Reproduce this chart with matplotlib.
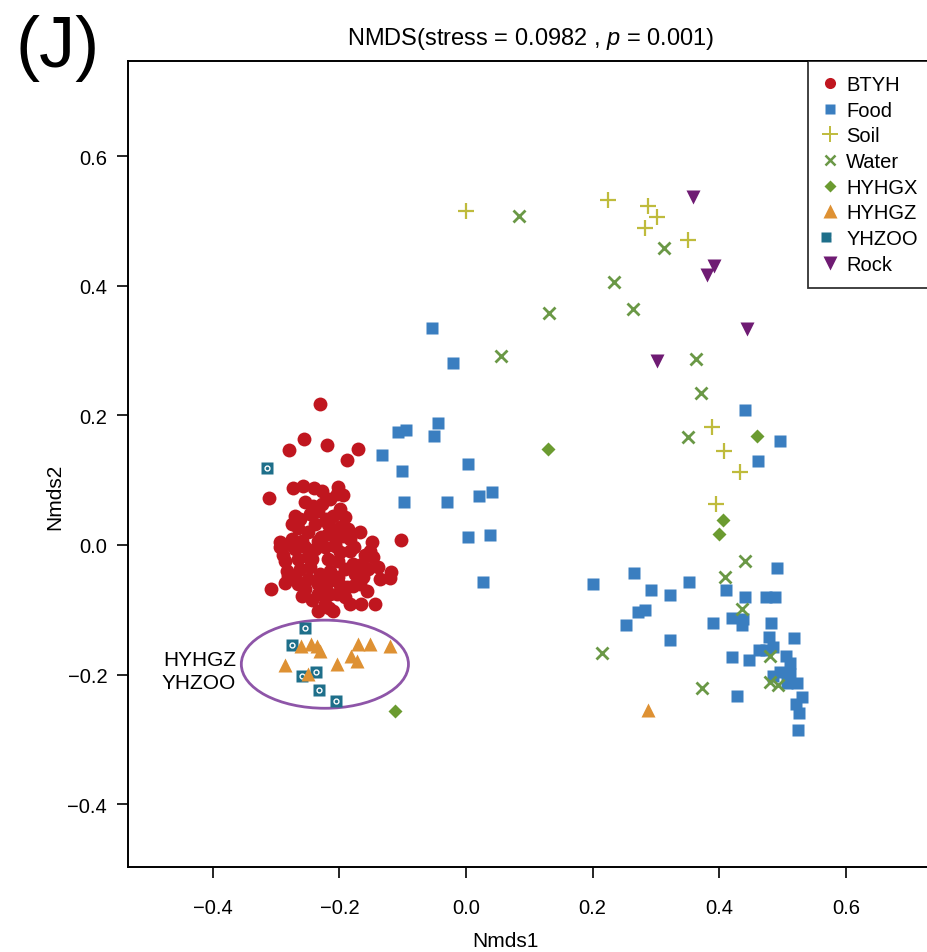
import matplotlib
matplotlib.use('agg')
import matplotlib.pyplot as plt
from matplotlib.lines import Line2D
from matplotlib.patches import Ellipse
from matplotlib.legend_handler import HandlerTuple

plt.rcParams['font.family'] = ['Liberation Sans', 'DejaVu Sans']
plt.rcParams['mathtext.fontset'] = 'custom'
plt.rcParams['mathtext.it'] = 'Liberation Sans:italic'
plt.rcParams['mathtext.rm'] = 'Liberation Sans'

# NMDS site scores per sample group
btyh_x = [-0.231, -0.256, -0.280, -0.220, -0.171, -0.188, -0.311, -0.103, -0.308, -0.166, -0.144, -0.216, -0.118, -0.120,
          -0.273, -0.258, -0.240, -0.227, -0.202, -0.204, -0.194, -0.254, -0.242, -0.234,
          -0.199, -0.210, -0.191, -0.270, -0.262, -0.275, -0.265, -0.239, -0.250, -0.229,
          -0.218, -0.294, -0.275, -0.259, -0.167, -0.210, -0.194, -0.183, -0.149, -0.207,
          -0.294, -0.286, -0.283, -0.281, -0.265, -0.254, -0.234, -0.223, -0.243, -0.152,
          -0.147, -0.179, -0.164, -0.155, -0.139, -0.175, -0.163, -0.188, -0.179, -0.156,
          -0.204, -0.210,
          -0.270, -0.254, -0.239, -0.223, -0.199, -0.183, -0.265, -0.250, -0.218, -0.202,
          -0.191, -0.262, -0.246, -0.231, -0.215, -0.202, -0.270, -0.250, -0.234, -0.218,
          -0.199, -0.215, -0.191, -0.227, -0.243, -0.207, -0.278, -0.234, -0.246, -0.221,
          -0.227, -0.215, -0.177, -0.167, -0.289, -0.183, -0.234, -0.218, -0.199, -0.259,
          -0.286, -0.160, -0.136, -0.186]
btyh_y = [0.218, 0.164, 0.147, 0.154, 0.148, 0.131, 0.073, 0.008, -0.068, -0.091, -0.091, -0.097, -0.042, -0.051,
          0.088, 0.091, 0.088, 0.083, 0.090, 0.079, 0.077, 0.066, 0.060, 0.052,
          0.056, 0.045, 0.043, 0.045, 0.040, 0.032, 0.026, 0.032, 0.020, 0.012,
          0.017, 0.005, 0.009, 0.006, 0.020, 0.017, 0.014, 0.009, 0.005, -0.002,
          -0.003, -0.025, -0.040, -0.048, -0.060, -0.068, -0.076, -0.091, -0.085, -0.009,
          -0.019, -0.029, -0.029, -0.037, -0.034, -0.045, -0.049, -0.065, -0.063, -0.071,
          -0.076, -0.102,
          -0.006, -0.003, -0.006, -0.003, -0.011, -0.009, -0.022, -0.019, -0.022, -0.025,
          -0.037, -0.037, -0.034, -0.045, -0.040, -0.049, -0.048, -0.052, -0.060, -0.057,
          -0.062, -0.076, -0.080, -0.071, -0.022, 0.002, 0.002, 0.006, 0.048, 0.040,
          0.063, 0.071, -0.003, -0.060, -0.015, -0.091, -0.102, 0.032, 0.028, -0.079,
          -0.059, -0.015, -0.052, 0.025]

food_x = [-0.054, -0.021, -0.044, -0.107, -0.095, -0.051, -0.133, -0.101, 0.003, -0.098, -0.030, 0.021, 0.041,
          0.003, 0.038, 0.027,
          0.201, 0.265, 0.292, 0.322, 0.352, 0.411, 0.441, 0.474, 0.488, 0.491, 0.272, 0.283, 0.253, 0.322,
          0.390, 0.420, 0.438, 0.436, 0.482, 0.479, 0.518, 0.420, 0.447, 0.463, 0.474, 0.485, 0.506, 0.512,
          0.496, 0.512, 0.485, 0.507, 0.523, 0.531, 0.521, 0.526, 0.428, 0.524, 0.441, 0.496, 0.461]
food_y = [0.335, 0.281, 0.188, 0.174, 0.177, 0.168, 0.139, 0.114, 0.125, 0.066, 0.066, 0.076, 0.082,
          0.012, 0.015, -0.057,
          -0.060, -0.043, -0.069, -0.077, -0.057, -0.069, -0.080, -0.080, -0.080, -0.035, -0.103, -0.100, -0.123, -0.147,
          -0.120, -0.113, -0.114, -0.123, -0.120, -0.142, -0.144, -0.173, -0.177, -0.162, -0.162, -0.157, -0.171, -0.182,
          -0.196, -0.199, -0.202, -0.213, -0.213, -0.235, -0.245, -0.259, -0.233, -0.285, 0.208, 0.160, 0.130]

soil_x = [0.000, 0.224, 0.288, 0.302, 0.282, 0.350, 0.389, 0.408, 0.433, 0.395]
soil_y = [0.516, 0.533, 0.523, 0.506, 0.489, 0.470, 0.182, 0.145, 0.113, 0.063]

water_x = [0.083, 0.312, 0.233, 0.264, 0.131, 0.055, 0.363, 0.371, 0.351, 0.440, 0.409, 0.436, 0.214,
           0.373, 0.480, 0.480, 0.493]
water_y = [0.508, 0.459, 0.406, 0.364, 0.358, 0.291, 0.287, 0.234, 0.167, -0.024, -0.050, -0.099, -0.166,
           -0.220, -0.171, -0.212, -0.216]

hyhgx_x = [0.130, 0.460, 0.406, 0.400, -0.112]
hyhgx_y = [0.148, 0.168, 0.038, 0.017, -0.256]

hyhgz_x = [-0.261, -0.245, -0.235, -0.231, -0.286, -0.250, -0.204, -0.182, -0.171, -0.172, -0.152, -0.120, 0.288]
hyhgz_y = [-0.156, -0.153, -0.156, -0.164, -0.185, -0.199, -0.184, -0.171, -0.153, -0.179, -0.153, -0.156, -0.255]

yhzoo_x = [-0.314, -0.254, -0.275, -0.237, -0.259, -0.232, -0.205]
yhzoo_y = [0.119, -0.128, -0.154, -0.196, -0.202, -0.224, -0.241]

rock_x = [0.358, 0.391, 0.380, 0.444, 0.302]
rock_y = [0.537, 0.431, 0.416, 0.334, 0.284]

groups = ['BTYH', 'Food', 'Soil', 'Water', 'HYHGX', 'HYHGZ', 'YHZOO', 'Rock']
colors = {'BTYH': '#C0161F', 'Food': '#3A7EC0', 'Soil': '#BFBB3C', 'Water': '#6A9846',
          'HYHGX': '#6B9B30', 'HYHGZ': '#DE9133', 'YHZOO': '#1E6F8A', 'Rock': '#6F1B73'}
ticks = [-0.4, -0.2, 0.0, 0.2, 0.4, 0.6]
tick_labels = ['\u22120.4', '\u22120.2', '0.0', '0.2', '0.4', '0.6']

fig = plt.figure(figsize=(9.28, 9.53), dpi=100)
ax = fig.add_axes([128 / 928, 85 / 953, 804 / 928, 806 / 953])

ax.plot(btyh_x, btyh_y, 'o', ms=10, mfc=colors['BTYH'], mec='none', ls='none')
ax.plot(food_x, food_y, 's', ms=8, mfc=colors['Food'], mec='none', ls='none')
ax.plot(soil_x, soil_y, '+', ms=11, mew=1.6, color=colors['Soil'], ls='none')
ax.plot(water_x, water_y, 'x', ms=8, mew=2.0, color=colors['Water'], ls='none')
ax.plot(hyhgx_x, hyhgx_y, 'D', ms=7, mfc=colors['HYHGX'], mec='none', ls='none')
ax.plot(yhzoo_x, yhzoo_y, 's', ms=8, mfc=colors['YHZOO'], mec='none', ls='none')
ax.plot(yhzoo_x, yhzoo_y, 'o', ms=3.5, mfc='none', mec='white', mew=1.0, ls='none')
ax.plot(hyhgz_x, hyhgz_y, '^', ms=10, mfc=colors['HYHGZ'], mec='none', ls='none')
ax.plot(rock_x, rock_y, 'v', ms=10, mfc=colors['Rock'], mec='none', ls='none')

# ring around the two zoo groups
ax.add_patch(Ellipse((-0.223, -0.184), 0.264, 0.136, fill=False, ec='#8E55A8', lw=2.0))
ax.text(-0.363, -0.176, 'HYHGZ', ha='right', va='center', fontsize=15)
ax.text(-0.363, -0.213, 'YHZOO', ha='right', va='center', fontsize=15)

ax.set_xlim(-0.534, 0.736)
ax.set_ylim(-0.497, 0.747)
ax.set_xticks(ticks)
ax.set_yticks(ticks)
ax.set_xticklabels(tick_labels)
ax.set_yticklabels(tick_labels)
ax.tick_params(axis='both', direction='out', length=8, width=1.2, labelsize=14.5)
ax.tick_params(axis='x', pad=14)
ax.tick_params(axis='y', pad=7)
for s in ax.spines.values():
    s.set_linewidth(1.4)

ax.set_xlabel('Nmds1', fontsize=15)
ax.set_ylabel('Nmds2', fontsize=15)
ax.xaxis.set_label_coords(0.469, -0.091)
ax.yaxis.set_label_coords(-0.091, 0.460)
ax.xaxis.label.set_va('center')
ax.yaxis.label.set_va('center')
ax.set_title('NMDS(stress = 0.0982 , $\\it{p}$ = 0.001)', fontsize=17, pad=12)
fig.text(15 / 928, 1 - 48 / 953, '(J)', fontsize=52, va='center', ha='left')

handles = [
    Line2D([], [], marker='o', ms=8, mfc=colors['BTYH'], mec='none', ls='none'),
    Line2D([], [], marker='s', ms=7.5, mfc=colors['Food'], mec='none', ls='none'),
    Line2D([], [], marker='+', ms=11, mew=1.4, color=colors['Soil'], ls='none'),
    Line2D([], [], marker='x', ms=7, mew=1.8, color=colors['Water'], ls='none'),
    Line2D([], [], marker='D', ms=6.5, mfc=colors['HYHGX'], mec='none', ls='none'),
    Line2D([], [], marker='^', ms=10, mfc=colors['HYHGZ'], mec='none', ls='none'),
    (Line2D([], [], marker='s', ms=7.5, mfc=colors['YHZOO'], mec='none', ls='none'),
     Line2D([], [], marker='o', ms=3, mfc='none', mec='white', mew=0.9, ls='none')),
    Line2D([], [], marker='v', ms=10, mfc=colors['Rock'], mec='none', ls='none'),
]
leg = ax.legend(handles, groups, loc='upper right', borderaxespad=0, fontsize=14.5,
                frameon=True, fancybox=False, edgecolor='black', handlelength=0.8,
                handletextpad=0.4, labelspacing=0.33, borderpad=0.7,
                handler_map={tuple: HandlerTuple(ndivide=None, pad=0)})
leg.get_frame().set_linewidth(1.3)

plt.savefig('out.png', dpi=100)
